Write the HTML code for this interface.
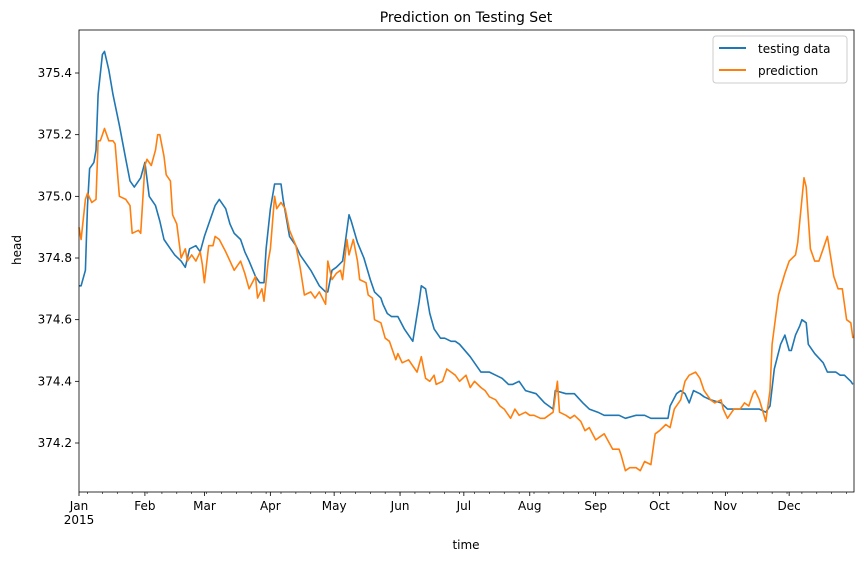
<!DOCTYPE html>
<html><head><meta charset="utf-8"><style>
body{margin:0;background:#fff;}
svg text{font-family:"DejaVu Sans","Liberation Sans",sans-serif;fill:#000;}
</style></head><body>
<svg id="chart" width="864" height="561" xmlns="http://www.w3.org/2000/svg">
<rect width="864" height="561" fill="#fff"/>
<text x="466" y="22" font-size="14" text-anchor="middle">Prediction on Testing Set</text>
<g id="plot"></g>
<text x="466" y="549" font-size="12" text-anchor="middle">time</text>
<text transform="translate(21,250) rotate(-90)" font-size="12" text-anchor="middle">head</text>
<g>
<rect x="713" y="36" width="134" height="47" rx="3" fill="#fff" stroke="#ccc"/>
<line x1="719" y1="48" x2="746" y2="48" stroke="#1f77b4" stroke-width="2"/>
<text x="758" y="53" font-size="12">testing data</text>
<line x1="719" y1="70" x2="746" y2="70" stroke="#ff7f0e" stroke-width="2"/>
<text x="758" y="75" font-size="12">prediction</text>
</g>
</svg>
<script>
const testDays=[0,1,3,4,5,7,8,9,11,12,14,16,19,22,24,26,29,31,33,36,38,40,43,45,48,50,52,55,57,59,62,64,66,69,71,73,76,78,80,83,85,87,88,90,92,95,96,99,102,104,109,113,116,117,119,121,124,125,127,128,131,134,137,139,142,143,145,147,150,153,157,160,161,163,165,167,170,172,175,177,179,184,189,193,196,199,202,204,207,210,215,219,223,224,229,233,237,240,244,247,252,254,257,262,266,269,273,277,278,281,283,285,287,289,292,294,297,302,305,311,316,320,323,325,327,330,332,334,335,337,339,340,342,343,346,350,352,356,358,360,363,364];
const testVals=[374.71,374.71,374.76,374.97,375.09,375.11,375.15,375.33,375.46,375.47,375.41,375.33,375.23,375.12,375.05,375.03,375.06,375.11,375.00,374.97,374.92,374.86,374.83,374.81,374.79,374.77,374.83,374.84,374.82,374.87,374.93,374.97,374.99,374.96,374.91,374.88,374.86,374.82,374.79,374.74,374.72,374.72,374.83,374.96,375.04,375.04,374.99,374.87,374.84,374.81,374.76,374.71,374.69,374.69,374.76,374.77,374.79,374.84,374.94,374.92,374.85,374.80,374.73,374.69,374.67,374.65,374.62,374.61,374.61,374.57,374.53,374.66,374.71,374.70,374.62,374.57,374.54,374.54,374.53,374.53,374.52,374.48,374.43,374.43,374.42,374.41,374.39,374.39,374.40,374.37,374.36,374.33,374.31,374.37,374.36,374.36,374.33,374.31,374.30,374.29,374.29,374.29,374.28,374.29,374.29,374.28,374.28,374.28,374.32,374.36,374.37,374.36,374.33,374.37,374.36,374.35,374.34,374.33,374.31,374.31,374.31,374.31,374.30,374.32,374.44,374.52,374.55,374.50,374.50,374.55,374.58,374.60,374.59,374.52,374.49,374.46,374.43,374.43,374.42,374.42,374.40,374.39];
const predDays=[0,1,3,4,6,8,9,10,11,12,14,16,17,19,22,24,25,28,29,31,32,34,36,37,38,40,41,43,44,46,48,50,51,53,55,57,58,59,61,63,64,66,69,71,73,76,78,80,83,84,86,87,89,90,92,93,95,97,99,102,104,106,109,111,113,116,117,119,121,123,124,126,127,129,131,132,135,136,138,139,142,144,146,149,150,152,155,158,159,161,163,165,167,168,171,173,175,177,179,182,184,186,189,191,193,196,198,200,203,205,207,210,212,214,217,219,223,225,226,229,231,233,236,238,240,243,245,247,251,254,255,257,259,262,264,266,269,271,273,276,278,280,283,285,287,290,292,294,297,299,302,303,305,308,311,313,315,317,318,320,323,325,326,329,332,334,337,338,340,341,342,344,346,348,350,352,355,357,359,361,363,364];
const predVals=[374.90,374.86,374.99,375.01,374.98,374.99,375.18,375.18,375.20,375.22,375.18,375.18,375.17,375.00,374.99,374.97,374.88,374.89,374.88,375.10,375.12,375.10,375.15,375.20,375.20,375.13,375.07,375.05,374.94,374.91,374.80,374.83,374.79,374.81,374.79,374.82,374.78,374.72,374.84,374.84,374.87,374.86,374.82,374.79,374.76,374.79,374.75,374.70,374.74,374.67,374.70,374.66,374.79,374.83,375.00,374.96,374.98,374.96,374.89,374.84,374.77,374.68,374.69,374.67,374.69,374.65,374.79,374.73,374.75,374.76,374.73,374.86,374.81,374.86,374.79,374.73,374.72,374.68,374.67,374.60,374.59,374.54,374.53,374.47,374.49,374.46,374.47,374.44,374.43,374.48,374.41,374.40,374.42,374.39,374.40,374.44,374.43,374.42,374.40,374.42,374.38,374.40,374.38,374.37,374.35,374.34,374.32,374.31,374.28,374.31,374.29,374.30,374.29,374.29,374.28,374.28,374.30,374.40,374.30,374.29,374.28,374.29,374.27,374.24,374.25,374.21,374.22,374.23,374.18,374.18,374.16,374.11,374.12,374.12,374.11,374.14,374.13,374.23,374.24,374.26,374.25,374.31,374.34,374.40,374.42,374.43,374.41,374.37,374.34,374.33,374.34,374.31,374.28,374.31,374.31,374.33,374.32,374.36,374.37,374.34,374.27,374.37,374.52,374.68,374.75,374.79,374.81,374.85,374.99,375.06,375.03,374.83,374.79,374.79,374.83,374.87,374.74,374.70,374.70,374.60,374.59,374.54];
const yTicks=[374.2,374.4,374.6,374.8,375.0,375.2,375.4];
const monthLabels=["Jan","Feb","Mar","Apr","May","Jun","Jul","Aug","Sep","Oct","Nov","Dec"];
const monthStarts=[0,31,59,90,120,151,181,212,243,273,304,334];

const L=79,R=854,T=30,B=492;
const xs=d=>L+d*(R-L)/364.5;
const ys=v=>443-(v-374.2)*308.33;
const g=document.getElementById('plot');
const NS='http://www.w3.org/2000/svg';
function mk(tag,attrs){const e=document.createElementNS(NS,tag);for(const k in attrs)e.setAttribute(k,attrs[k]);g.appendChild(e);return e;}

yTicks.forEach(v=>{
  const y=ys(v);
  const t=mk('line',{x1:L-4,x2:L,y1:y,y2:y,stroke:'#000','stroke-width':0.8});
  
  
  const tx=mk('text',{x:L-7,y:y+4,'font-size':12,'text-anchor':'end'});
  tx.textContent=v.toFixed(1);
  
  
});
for(let d=4;d<365;d+=7){
  const t=mk('line',{x1:xs(d),x2:xs(d),y1:B,y2:B+2,stroke:'#000','stroke-width':0.6});
  
  
}
monthStarts.forEach((d,i)=>{
  const x=xs(d);
  const t=mk('line',{x1:x,x2:x,y1:B,y2:B+4,stroke:'#000','stroke-width':0.8});
  
  
  const tx=mk('text',{x:x,y:B+18,'font-size':12,'text-anchor':'middle'});
  tx.textContent=monthLabels[i];
  
  
});
const yr=mk('text',{x:xs(0),y:B+32,'font-size':12,'text-anchor':'middle'});
yr.textContent='2015';



function line(days,vals,color,name){
  const p=mk('polyline',{points:days.map((d,i)=>xs(d).toFixed(1)+','+ys(vals[i]).toFixed(1)).join(' '),fill:'none',stroke:color,'stroke-width':1.6,'stroke-linejoin':'round'});
  
  
}
line(testDays,testVals,'#1f77b4','testing-data-line');
line(predDays,predVals,'#ff7f0e','prediction-line');
const fr=mk('rect',{x:L,y:T,width:R-L,height:B-T,fill:'none',stroke:'#000','stroke-width':0.8});


</script>
</body></html>
